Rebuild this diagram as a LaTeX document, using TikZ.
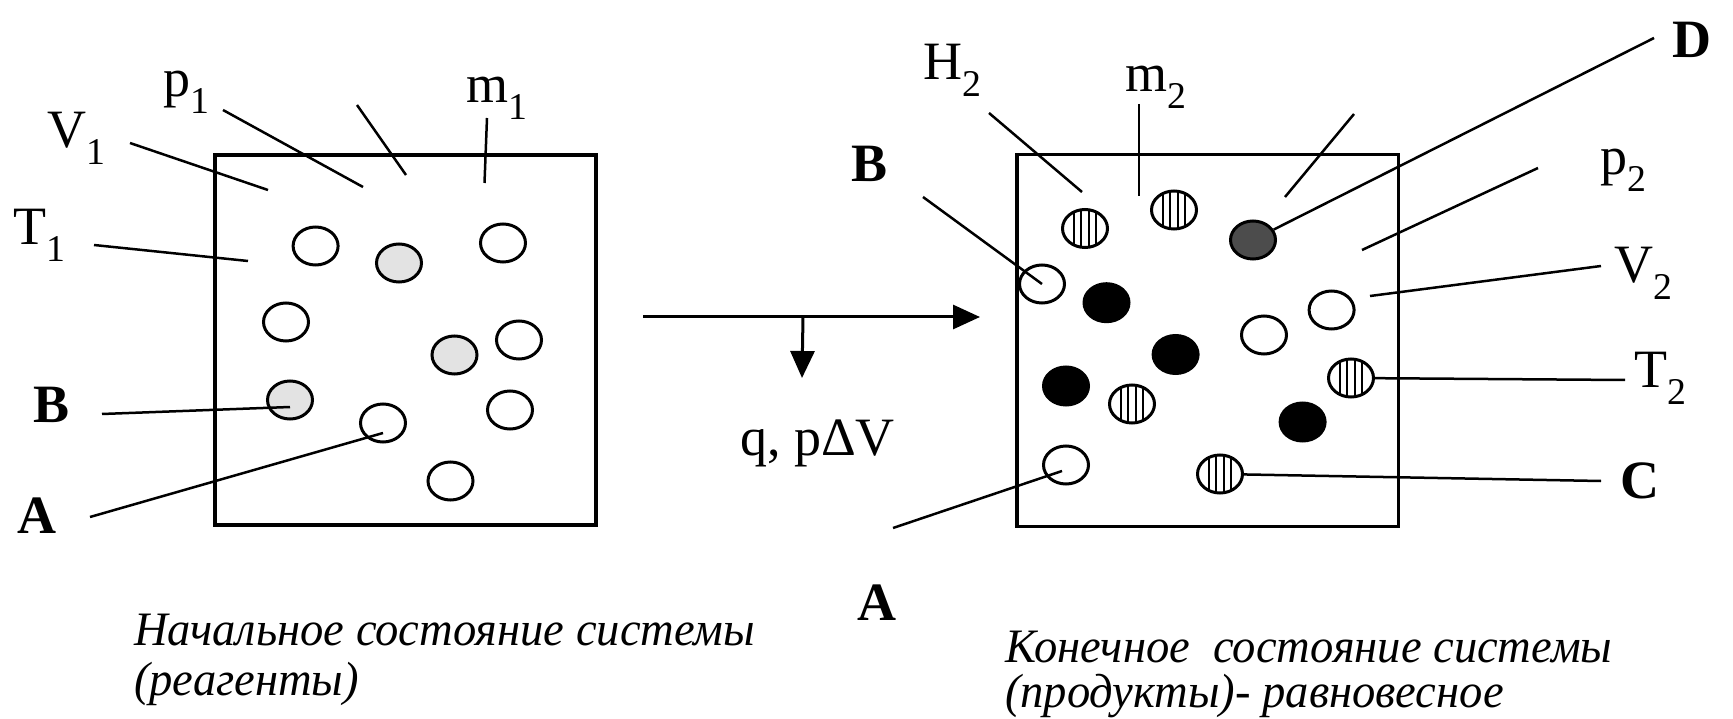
\documentclass[tikz,border=0pt]{standalone}
\usepackage{fontspec}
\setmainfont{Liberation Serif}
\usepackage{graphicx}
\usetikzlibrary{shapes.geometric,arrows.meta}
\begin{document}
\begin{tikzpicture}[x=1pt,y=-1pt,
  lbl/.style={anchor=base west,inner sep=0pt,font=\fontsize{54}{60}\selectfont},
  blbl/.style={anchor=base west,inner sep=0pt,font=\fontsize{54}{60}\selectfont\bfseries},
  captxt/.style={anchor=base west,inner sep=0pt,font=\fontsize{48}{52}\selectfont\itshape},
  frameA/.style={draw,line width=4pt,minimum width=381pt,minimum height=370pt,inner sep=0pt},
  frameB/.style={draw,line width=3.5pt,minimum width=381.5pt,minimum height=371.5pt,inner sep=0pt},
  ball/.style={ellipse,draw,line width=3pt,minimum width=45pt,minimum height=38pt,inner sep=0pt},
  openball/.style={ball,fill=white},
  dotball/.style={ball,fill=black!11},
  blackball/.style={ball,fill=black},
  darkball/.style={ball,fill=black!70},
  stripeball/.style={ball,fill=white,path picture={
    \foreach \dx in {-11.25,-3.75,3.75,11.25}{
      \draw[line width=2.2pt] ([xshift=\dx pt]path picture bounding box.north) -- ([xshift=\dx pt]path picture bounding box.south);}}},
  leader/.style={line width=2.5pt},
  flowarrow/.style={line width=3pt,-{Triangle[length=27pt,width=24pt]}}
]
\useasboundingbox (0,0) rectangle (1733,719);
\fill[white] (0,0) rectangle (1733,719);

% frames
\node[frameA] (box1) at (405.5,340) {};
\node[frameB] (box2) at (1207.5,340.5) {};

% left circles
\node[openball] (L1) at (315.6,246) {};
\node[dotball] (L2) at (399,263) {};
\node[openball] (L3) at (503,243) {};
\node[openball] (L4) at (286,322) {};
\node[dotball] (L5) at (454.5,355) {};
\node[openball] (L6) at (519,340) {};
\node[dotball] (L7) at (290,400) {};
\node[openball] (L8) at (383,423) {};
\node[openball] (L9) at (510,410) {};
\node[openball] (L10) at (450.5,481) {};

% right circles
\node[stripeball] (R1) at (1085,228.5) {};
\node[stripeball] (R2) at (1174,210) {};
\node[darkball] (R3) at (1253,240) {};
\node[openball] (R4) at (1042,284) {};
\node[blackball] (R5) at (1106.5,302.7) {};
\node[openball] (R6) at (1331.6,310) {};
\node[openball] (R7) at (1264,335) {};
\node[blackball] (R8) at (1175.6,354.5) {};
\node[blackball] (R9) at (1066,386) {};
\node[stripeball] (R10) at (1132,404) {};
\node[stripeball] (R11) at (1351,378) {};
\node[blackball] (R12) at (1302.6,422) {};
\node[openball] (R13) at (1066,465) {};
\node[stripeball] (R14) at (1220,474) {};

% labels left
\node[lbl] (tp1) at (163,97) {p\textsubscript{1}};
\node[lbl] (tm1) at (466,103) {m\textsubscript{1}};
\node[lbl] (tV1) at (47,148) {V\textsubscript{1}};
\node[lbl] (tT1) at (13,245) {T\textsubscript{1}};
\node[blbl] (tB1) at (33,422) {B};
\node[blbl] (tA1) at (17,533) {A};

% labels right
\node[lbl] (tH2) at (923,80) {H\textsubscript{2}};
\node[lbl] (tm2) at (1125,92) {m\textsubscript{2}};
\node[blbl] (tB2) at (851,182) {B};
\node[blbl] (tA2) at (857,620) {A};
\node[blbl] (tD) at (1672,58) {D};
\node[lbl] (tp2) at (1600,175) {p\textsubscript{2}};
\node[lbl] (tV2) at (1614,283) {V\textsubscript{2}};
\node[lbl] (tT2) at (1634,388) {T\textsubscript{2}};
\node[blbl] (tC) at (1620,498) {C};

\node[lbl] (tq) at (740,455) {q, pΔV};

% captions
\node[captxt] (c1a) at (134,645) {\scalebox{0.97}[1]{Начальное состояние системы}};
\node[captxt] (c1b) at (134,695) {\scalebox{0.97}[1]{(реагенты)}};
\node[captxt] (c2a) at (1005,662) {\scalebox{0.97}[1]{Конечное\ \ состояние системы}};
\node[captxt] (c2b) at (1005,707) {\scalebox{0.97}[1]{(продукты)- равновесное}};

% leader line free ends
\coordinate (v1a) at (130,143); \coordinate (v1b) at (268,190);
\coordinate (p1a) at (223,110); \coordinate (p1b) at (363,187);
\coordinate (u1a) at (357,105); \coordinate (u1b) at (406,175);
\coordinate (m1a) at (487,118); \coordinate (m1b) at (484.5,183);
\coordinate (t1a) at (94,245); \coordinate (t1b) at (248,261);
\coordinate (b1a) at (102,414);
\coordinate (a1a) at (90,517);

\coordinate (h2a) at (989,113); \coordinate (h2b) at (1082,192);
\coordinate (m2a) at (1139,104); \coordinate (m2b) at (1139,196);
\coordinate (u2a) at (1354,114); \coordinate (u2b) at (1285,197);
\coordinate (da) at (1654,38);
\coordinate (p2a) at (1538,168); \coordinate (p2b) at (1362,250);
\coordinate (v2a) at (1601,266); \coordinate (v2b) at (1370,296);
\coordinate (t2a) at (1625,380);
\coordinate (ca) at (1601,481);
\coordinate (b2a) at (923,197);
\coordinate (a2a) at (893,528);

\draw[leader] (v1a) -- (v1b);
\draw[leader] (p1a) -- (p1b);
\draw[leader] (u1a) -- (u1b);
\draw[leader] (m1a) -- (m1b);
\draw[leader] (t1a) -- (t1b);
\draw[leader] (b1a) -- ([yshift=-7pt]L7.center);
\draw[leader] (a1a) -- ([yshift=-10pt]L8.center);

\draw[leader] (h2a) -- (h2b);
\draw[leader] (m2a) -- (m2b);
\draw[leader] (u2a) -- (u2b);
\draw[leader] (da) -- (R3);
\draw[leader] (p2a) -- (p2b);
\draw[leader] (v2a) -- (v2b);
\draw[leader] (t2a) -- (R11);
\draw[leader] (ca) -- (R14);
\draw[leader] (b2a) -- (R4.center);
\draw[leader] (a2a) -- ([xshift=-4pt,yshift=-6pt]R13.center);

% arrows
\coordinate (arrS) at (643,317);
\coordinate (arrE) at (980,317);
\coordinate (brS) at (803,317);
\coordinate (brE) at (802,378);
\draw[flowarrow] (arrS) -- (arrE);
\draw[flowarrow] (brS) -- (brE);
\end{tikzpicture}
\end{document}
